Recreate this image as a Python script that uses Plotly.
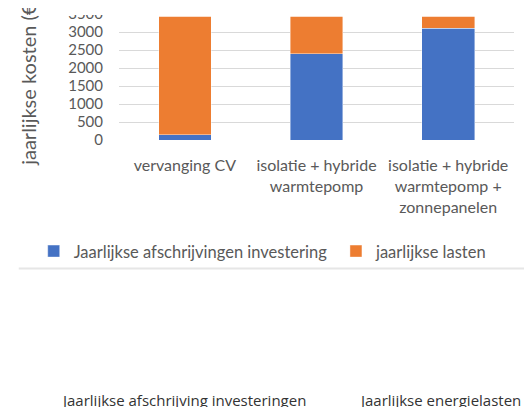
import plotly.graph_objects as go

categories = ["vervanging CV", "isolatie + hybride<br>warmtepomp", "isolatie + hybride<br>warmtepomp +<br>zonnepanelen"]
afschrijving = [150, 2400, 3100]
lasten = [3450, 1250, 550]
y_ticks = [0, 500, 1000, 1500, 2000, 2500, 3000, 3500]

# page body has an 8px default margin; layout values below are given in window pixels
OFF = 8
WIN_W, WIN_H = 532, 407
W, H = WIN_W - OFF, WIN_H - OFF
PLOT_L, PLOT_T, PLOT_B = 118.5, 14.4, 140.0
PW = 396.0
PH = PLOT_B - PLOT_T
L, T = PLOT_L - OFF, PLOT_T - OFF
R = W - L - PW
B = H - (PLOT_B - OFF)

def px(x):
    return (x - PLOT_L) / PW

def py(y):
    return (PLOT_B - y) / PH

FONT = "Lato"
GRAY = "#595959"

fig = go.Figure()
fig.add_trace(go.Bar(x=categories, y=afschrijving, name="Jaarlijkse afschrijvingen investering",
                     marker=dict(color="#4472C4", line=dict(width=0.6, color="rgba(255,255,255,0.7)")),
                     legend="legend"))
fig.add_trace(go.Bar(x=categories, y=lasten, name="jaarlijkse lasten",
                     marker=dict(color="#ED7D31", line=dict(width=0.6, color="rgba(255,255,255,0.7)")),
                     legend="legend2"))

leg_common = dict(orientation="h", xanchor="left", yanchor="middle", bgcolor="rgba(0,0,0,0)",
                  font=dict(family=FONT, size=16.5, color=GRAY))

fig.update_layout(
    width=W, height=H, barmode="stack", bargap=0.6,
    margin=dict(l=L, r=R, t=T, b=B, autoexpand=False),
    plot_bgcolor="white", paper_bgcolor="white",
    font=dict(family=FONT, color=GRAY, size=16),
    showlegend=True,
    legend=dict(x=px(33), y=py(251), **leg_common),
    legend2=dict(x=px(336), y=py(251), **leg_common),
    xaxis=dict(showgrid=False, showline=False, ticks="", tickfont=dict(size=16, color=GRAY),
               ticklabelstandoff=14, automargin=False),
    yaxis=dict(range=[0, 3500], tickvals=y_ticks, showgrid=True, gridcolor="#d9d9d9", gridwidth=1,
               zeroline=False, showline=False, tickfont=dict(size=15, color=GRAY),
               ticklabelstandoff=15, automargin=False, ticklabeloverflow="allow"),
    shapes=[
        dict(type="rect", xref="paper", yref="paper", x0=px(40), x1=px(112), y0=py(15.5), y1=py(-10),
             fillcolor="white", line=dict(width=0), layer="above"),
        dict(type="rect", xref="paper", yref="paper", x0=px(112), x1=px(545), y0=py(17.2), y1=py(-10),
             fillcolor="white", line=dict(width=0), layer="above"),
        dict(type="line", xref="paper", yref="paper", x0=px(18), x1=px(545), y0=py(268), y1=py(268),
             line=dict(color="#e6e6e6", width=2), layer="above"),
    ],
    annotations=[
        dict(text="jaarlijkse kosten (€)", xref="paper", yref="paper", x=px(27), y=py(168),
             xanchor="center", yanchor="bottom", textangle=-90, showarrow=False,
             font=dict(family=FONT, size=20, color=GRAY)),
        dict(text="Jaarlijkse afschrijving investeringen", xref="paper", yref="paper", x=px(58), y=py(387),
             xanchor="left", yanchor="top", showarrow=False, font=dict(family="Open Sans", size=15, color="#333333")),
        dict(text="Jaarlijkse energielasten", xref="paper", yref="paper", x=px(357), y=py(387),
             xanchor="left", yanchor="top", showarrow=False, font=dict(family="Open Sans", size=15, color="#333333")),
    ],
)

fig.write_html("out.html")
